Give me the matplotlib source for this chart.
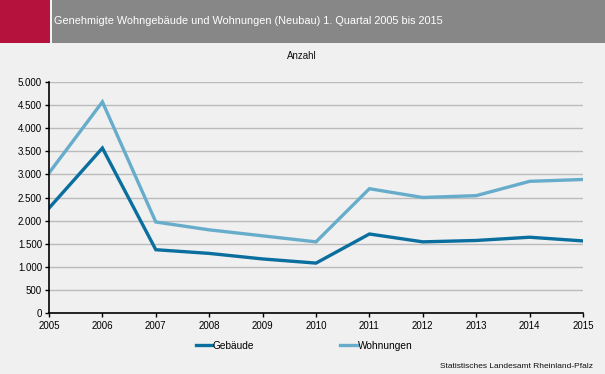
import matplotlib
matplotlib.use("Agg")
import matplotlib.pyplot as plt
from matplotlib.patches import Rectangle
from matplotlib.lines import Line2D

years = [2005, 2006, 2007, 2008, 2009, 2010, 2011, 2012, 2013, 2014, 2015]
gebaeude = [2270, 3570, 1370, 1290, 1170, 1080, 1710, 1540, 1570, 1640, 1560]
wohnungen = [3030, 4570, 1970, 1800, 1670, 1540, 2690, 2500, 2540, 2850, 2890]
yticks = [0, 500, 1000, 1500, 2000, 2500, 3000, 3500, 4000, 4500, 5000]
ytick_labels = ["0", "500", "1.000", "1.500", "2.000", "2.500", "3.000", "3.500", "4.000", "4.500", "5.000"]

title = "Genehmigte Wohngebäude und Wohnungen (Neubau) 1. Quartal 2005 bis 2015"
c_geb = "#0A6E9E"
c_woh = "#67ADCB"
bg = "#EFF0EF"

W, H = 605, 374
fig = plt.figure(figsize=(W / 100, H / 100), dpi=100, facecolor=bg)
plt.rcParams['font.family'] = ['Liberation Sans', 'DejaVu Sans']

# header band
HB = 43
fig.patches.append(Rectangle((0, 1 - HB / H), 1, HB / H, transform=fig.transFigure,
                             facecolor="#878787", edgecolor="none"))
fig.patches.append(Rectangle((0, 1 - HB / H), 50 / W, HB / H, transform=fig.transFigure,
                             facecolor="#B5123E", edgecolor="none"))
fig.patches.append(Rectangle((50 / W, 1 - HB / H), 2 / W, HB / H, transform=fig.transFigure,
                             facecolor="#F4F4F4", edgecolor="none"))
fig.text(54 / W, 1 - 21.5 / H, title, color="white", fontsize=7.8, va="center", ha="left")

fig.text(302 / W, 1 - 56 / H, "Anzahl", fontsize=7, ha="center", va="center", color="#111111")

ax = fig.add_axes([49 / W, 1 - 313 / H, (583 - 49) / W, (313 - 82) / H])
ax.set_facecolor(bg)
ax.plot(years, wohnungen, color=c_woh, lw=2.4, solid_joinstyle="miter")
ax.plot(years, gebaeude, color=c_geb, lw=2.4, solid_joinstyle="miter")
ax.set_xlim(2005, 2015)
ax.set_ylim(0, 5000)
ax.set_yticks(yticks)
ax.set_yticklabels(ytick_labels)
ax.set_xticks(years)
ax.set_xticklabels([str(y) for y in years])
ax.grid(axis="y", color="#BBBBBB", lw=1)
ax.set_axisbelow(True)
for s in ["top", "right"]:
    ax.spines[s].set_visible(False)
for s in ["left", "bottom"]:
    ax.spines[s].set_color("black")
    ax.spines[s].set_linewidth(1.2)
ax.tick_params(axis="both", labelsize=7, colors="black", length=3, width=1, direction="out")
ax.tick_params(axis="y", pad=2)
ax.tick_params(axis="x", pad=3)

handles = [Line2D([], [], color=c_geb, lw=2.4), Line2D([], [], color=c_woh, lw=2.4)]
fig.legend(handles, ["Gebäude", "Wohnungen"], loc="center", bbox_to_anchor=(304 / W, 1 - 346 / H),
           ncol=2, frameon=False, fontsize=7.3, handlelength=1.6, handletextpad=0.1, columnspacing=8.5)

fig.text(593 / W, 1 - 367 / H, "Statistisches Landesamt Rheinland-Pfalz", fontsize=6,
         ha="right", va="center", color="#111111")

fig.savefig("out.png", dpi=100, facecolor=bg)
